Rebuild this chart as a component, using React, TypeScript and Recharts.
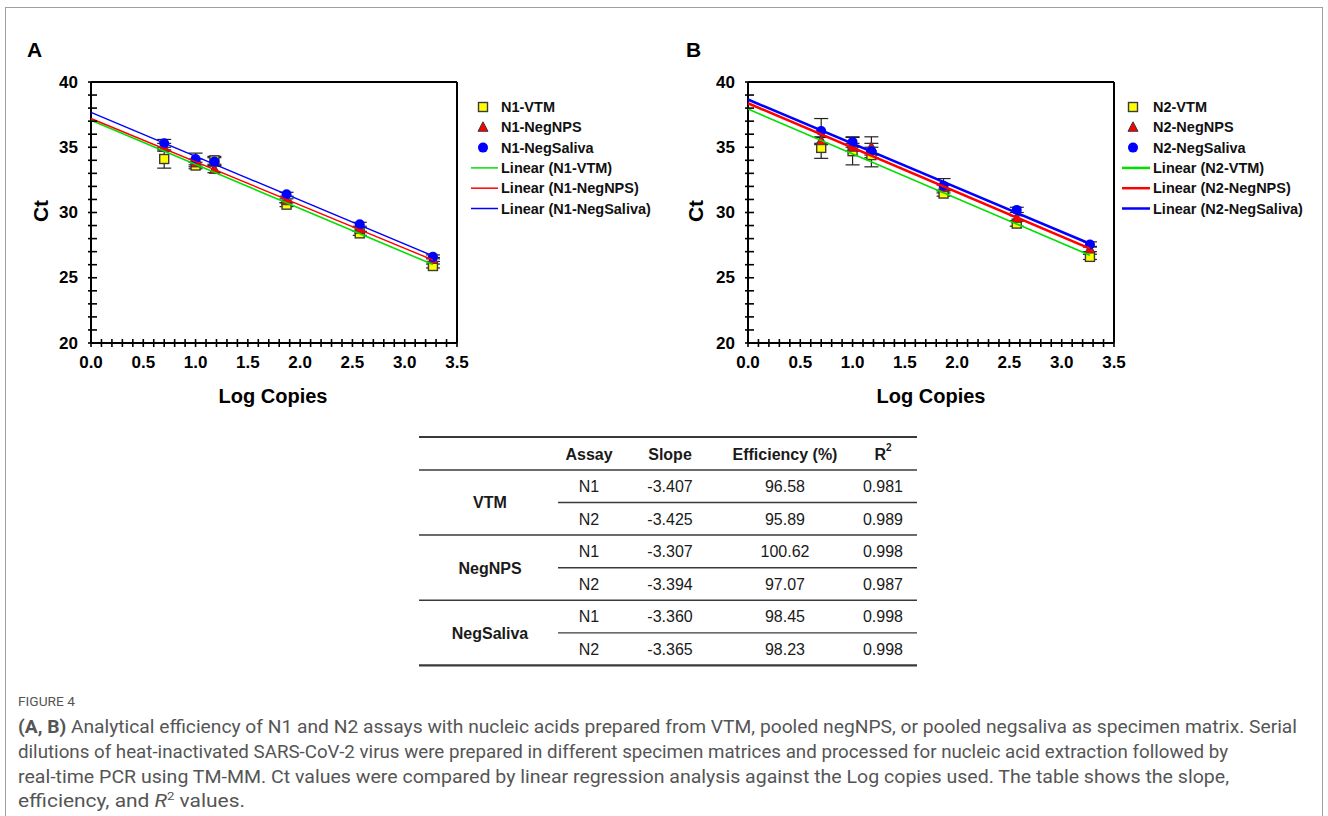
import { ScatterChart, Scatter, XAxis, YAxis, ErrorBar, ReferenceLine } from "recharts"

const logCopies = [0.7, 1.0, 1.18, 1.87, 2.57, 3.27]

// panel A: N1 assay
const n1Vtm = [34.1, 33.6, 34.0, 30.6, 28.4, 25.9]
const n1VtmErr = [0.7, 0.25, 0.3, 0.15, 0.15, 0.15]
const n1NegNps = [35.0, 33.8, 33.3, 30.9, 28.7, 26.4]
const n1NegNpsErr = [0.3, 0.3, 0.25, 0.15, 0.15, 0.15]
const n1NegSaliva = [35.3, 34.1, 33.9, 31.4, 29.1, 26.6]
const n1NegSalivaErr = [0.3, 0.45, 0.3, 0.15, 0.15, 0.15]

// panel B: N2 assay
const n2Vtm = [34.95, 34.7, 34.4, 31.45, 29.15, 26.6]
const n2VtmErr = [0.8, 1.05, 0.9, 0.2, 0.2, 0.2]
const n2NegNps = [35.5, 35.0, 35.0, 31.9, 29.55, 27.2]
const n2NegNpsErr = [0.3, 0.3, 0.8, 0.2, 0.2, 0.2]
const n2NegSaliva = [36.25, 35.4, 34.7, 32.05, 30.2, 27.55]
const n2NegSalivaErr = [0.95, 0.4, 0.3, 0.55, 0.2, 0.2]

const xTicks = Array.from({ length: 36 }, (_, i) => i / 10)
const yTicks = Array.from({ length: 21 }, (_, i) => 20 + i)

// table
const matrices = ["VTM", "NegNPS", "NegSaliva"]
const assays = ["N1", "N2", "N1", "N2", "N1", "N2"]
const slopes = ["-3.407", "-3.425", "-3.307", "-3.394", "-3.360", "-3.365"]
const efficiencies = ["96.58", "95.89", "100.62", "97.07", "98.45", "98.23"]
const rSquared = ["0.981", "0.989", "0.998", "0.987", "0.998", "0.998"]

const captionLines = [
  "Analytical efficiency of N1 and N2 assays with nucleic acids prepared from VTM, pooled negNPS, or pooled negsaliva as specimen matrix. Serial",
  "dilutions of heat-inactivated SARS-CoV-2 virus were prepared in different specimen matrices and processed for nucleic acid extraction followed by",
  "real-time PCR using TM-MM. Ct values were compared by linear regression analysis against the Log copies used. The table shows the slope,",
]

const FONT = "'Liberation Sans', Arial, sans-serif"
const CAPTION_FONT = "Roboto, 'Open Sans', sans-serif"

const toPoints = (ys: number[], errs: number[]) => logCopies.map((x, i) => ({ x, y: ys[i], err: errs[i] }))

// least squares trendline, from 0 to the last point
function fitLine(pts: { x: number; y: number }[]) {
  const n = pts.length
  const mx = pts.reduce((s, p) => s + p.x, 0) / n
  const my = pts.reduce((s, p) => s + p.y, 0) / n
  let sxy = 0
  let sxx = 0
  pts.forEach((p) => {
    sxy += (p.x - mx) * (p.y - my)
    sxx += (p.x - mx) * (p.x - mx)
  })
  const slope = sxy / sxx
  const icpt = my - slope * mx
  const xEnd = Math.max(...pts.map((p) => p.x))
  return [
    { x: 0, y: icpt },
    { x: xEnd, y: icpt + slope * xEnd },
  ]
}

type Kind = "square" | "triangle" | "circle"

function Marker({ kind, cx, cy }: { kind: Kind; cx: number; cy: number }) {
  if (kind === "square")
    return <rect x={cx - 4.5} y={cy - 4.5} width={9} height={9} fill="#ffff00" stroke="#3a3a3a" strokeWidth={1.4} />
  if (kind === "triangle")
    return (
      <polygon
        points={`${cx},${cy - 5.5} ${cx + 5},${cy + 4} ${cx - 5},${cy + 4}`}
        fill="#ff0000"
        stroke="#3a3a3a"
        strokeWidth={1}
      />
    )
  return <circle cx={cx} cy={cy} r={5} fill="#0000ff" />
}

const XTick = (props: any) => {
  const { x, y, payload } = props
  const v = payload.value
  const major = Math.round(v * 10) % 5 === 0
  return (
    <g>
      <line x1={x} x2={x} y1={y - 4} y2={y + 4} stroke="#000" strokeWidth={1.6} />
      {major && (
        <text x={x} y={y + 19} textAnchor="middle" dominantBaseline="central" fontFamily={FONT} fontWeight="bold" fontSize={17} fill="#000">
          {v.toFixed(1)}
        </text>
      )}
    </g>
  )
}

const YTick = (props: any) => {
  const { x, y, payload } = props
  const v = payload.value
  const major = v % 5 === 0
  return (
    <g>
      <line x1={x - 3} x2={x + 6} y1={y} y2={y} stroke="#000" strokeWidth={1.6} />
      {major && (
        <text x={x - 13} y={y} textAnchor="end" dominantBaseline="central" fontFamily={FONT} fontWeight="bold" fontSize={17} fill="#000">
          {v}
        </text>
      )}
    </g>
  )
}

type Series = { name: string; kind: Kind; color: string; ys: number[]; errs: number[] }

function Panel({ series, left, width, marginLeft, marginRight, lineWidths }: { series: Series[]; left: number; width: number; marginLeft: number; marginRight: number; lineWidths: number[] }) {
  return (
    <div style={{ position: "absolute", left, top: 0 }}>
      <ScatterChart width={width} height={420} margin={{ top: 82, right: marginRight, bottom: 47, left: marginLeft }}>
        <XAxis
          dataKey="x"
          type="number"
          domain={[0, 3.5]}
          ticks={xTicks}
          interval={0}
          height={30}
          tickLine={false}
          tickSize={0}
          tickMargin={0}
          axisLine={{ stroke: "#000", strokeWidth: 2 }}
          tick={(p: any) => <XTick {...p} />}
        />
        <YAxis
          dataKey="y"
          type="number"
          domain={[20, 40]}
          ticks={yTicks}
          interval={0}
          width={40}
          tickLine={false}
          tickSize={0}
          tickMargin={0}
          axisLine={{ stroke: "#000", strokeWidth: 2 }}
          tick={(p: any) => <YTick {...p} />}
        />
        <ReferenceLine y={40} stroke="#000" strokeWidth={2} />
        <ReferenceLine x={3.5} stroke="#000" strokeWidth={2} />
        {series.map((s) => (
          <Scatter
            key={s.name}
            name={s.name}
            data={toPoints(s.ys, s.errs)}
            isAnimationActive={false}
            shape={(p: any) => <Marker kind={s.kind} cx={p.cx} cy={p.cy} />}
          >
            <ErrorBar dataKey="err" direction="y" width={7} stroke="#222" strokeWidth={1.2} />
          </Scatter>
        ))}
        {series.map((s, i) => (
          <Scatter
            key={`fit-${s.name}`}
            name={`Linear (${s.name})`}
            data={fitLine(toPoints(s.ys, s.errs))}
            isAnimationActive={false}
            line={{ stroke: s.color, strokeWidth: lineWidths[i] }}
            shape={() => <g />}
          />
        ))}
      </ScatterChart>
    </div>
  )
}

function LegendBox({ series, left, textX, lineX1, lineX2, markerX, lineWidth }: { series: Series[]; left: number; textX: number; lineX1: number; lineX2: number; markerX: number; lineWidth: number }) {
  const rowY = (i: number) => 12 + i * 20.3
  return (
    <svg style={{ position: "absolute", left, top: 95 }} width={215} height={125}>
      {series.map((s, i) => (
        <g key={s.name}>
          <Marker kind={s.kind} cx={markerX} cy={rowY(i)} />
          <text x={textX} y={rowY(i)} dominantBaseline="central" fontFamily={FONT} fontWeight="bold" fontSize={14.5} fill="#111">
            {s.name}
          </text>
        </g>
      ))}
      {series.map((s, i) => (
        <g key={`l-${s.name}`}>
          <line x1={lineX1} x2={lineX2} y1={rowY(i + 3)} y2={rowY(i + 3)} stroke={s.color} strokeWidth={lineWidth} />
          <text x={textX} y={rowY(i + 3)} dominantBaseline="central" fontFamily={FONT} fontWeight="bold" fontSize={14.5} fill="#111">
            {`Linear (${s.name})`}
          </text>
        </g>
      ))}
    </svg>
  )
}

function Overlay() {
  const colX = [490, 589, 670, 785, 883]
  const rowY = (i: number) => 486.5 + i * 32.6
  const lineC = "#3a3a3a"
  return (
    <svg style={{ position: "absolute", left: 0, top: 0 }} width={1328} height={816}>
      <rect x={5.5} y={7.5} width={1317} height={900} fill="none" stroke="#a0a0a0" strokeWidth={1} />
      <g fontFamily={FONT} fontWeight="bold" fill="#000">
        <text x={27} y={57} fontSize={21}>A</text>
        <text x={686} y={57} fontSize={21}>B</text>
        <text transform="translate(40.5,211) rotate(-90)" textAnchor="middle" dominantBaseline="central" fontSize={21}>Ct</text>
        <text transform="translate(695.5,211) rotate(-90)" textAnchor="middle" dominantBaseline="central" fontSize={21}>Ct</text>
        <text x={273} y={396} textAnchor="middle" dominantBaseline="central" fontSize={20}>Log Copies</text>
        <text x={931} y={396} textAnchor="middle" dominantBaseline="central" fontSize={20}>Log Copies</text>
      </g>

      {/* table */}
      <g fontFamily={FONT} fontSize={16} fill="#1a1a1a">
        <line x1={419} x2={917} y1={437} y2={437} stroke={lineC} strokeWidth={2.2} />
        <line x1={419} x2={917} y1={470} y2={470} stroke={lineC} strokeWidth={1.4} />
        <text x={colX[1]} y={454} textAnchor="middle" dominantBaseline="central" fontWeight="bold">Assay</text>
        <text x={colX[2]} y={454} textAnchor="middle" dominantBaseline="central" fontWeight="bold">Slope</text>
        <text x={colX[3]} y={454} textAnchor="middle" dominantBaseline="central" fontWeight="bold">Efficiency (%)</text>
        <text x={colX[4]} y={454} textAnchor="middle" dominantBaseline="central" fontWeight="bold">
          R<tspan fontSize={10} dy={-7}>2</tspan>
        </text>
        {matrices.map((m, g) => (
          <g key={m}>
            <text x={colX[0]} y={rowY(g * 2) + 16.3} textAnchor="middle" dominantBaseline="central" fontWeight="bold">{m}</text>
            <line x1={558} x2={917} y1={rowY(g * 2) + 16} y2={rowY(g * 2) + 16} stroke={lineC} strokeWidth={1.4} />
            <line x1={419} x2={917} y1={rowY(g * 2) + 48.5} y2={rowY(g * 2) + 48.5} stroke={lineC} strokeWidth={g === 2 ? 2.2 : 1.4} />
          </g>
        ))}
        {assays.map((a, i) => (
          <g key={i}>
            <text x={colX[1]} y={rowY(i)} textAnchor="middle" dominantBaseline="central">{a}</text>
            <text x={colX[2]} y={rowY(i)} textAnchor="middle" dominantBaseline="central">{slopes[i]}</text>
            <text x={colX[3]} y={rowY(i)} textAnchor="middle" dominantBaseline="central">{efficiencies[i]}</text>
            <text x={colX[4]} y={rowY(i)} textAnchor="middle" dominantBaseline="central">{rSquared[i]}</text>
          </g>
        ))}
      </g>

      {/* caption */}
      <g fontFamily={CAPTION_FONT} fill="#555">
        <text x={18} y={706} fontSize={12.5} textLength={57} lengthAdjust="spacingAndGlyphs">FIGURE 4</text>
        <text x={18} y={733} fontSize={17.5} textLength={1279} lengthAdjust="spacingAndGlyphs">
          <tspan fontWeight="bold">(A, B)</tspan> {captionLines[0]}
        </text>
        <text x={18} y={758} fontSize={17.5} textLength={1210} lengthAdjust="spacingAndGlyphs">{captionLines[1]}</text>
        <text x={18} y={783} fontSize={17.5} textLength={1211} lengthAdjust="spacingAndGlyphs">{captionLines[2]}</text>
        <text x={18} y={807} fontSize={17.5} textLength={227} lengthAdjust="spacingAndGlyphs">
          efficiency, and <tspan fontStyle="italic">R</tspan>
          <tspan fontSize={11} dy={-7}>2</tspan>
          <tspan dy={7}> values.</tspan>
        </text>
      </g>
    </svg>
  )
}

const seriesA: Series[] = [
  { name: "N1-VTM", kind: "square", color: "#00e000", ys: n1Vtm, errs: n1VtmErr },
  { name: "N1-NegNPS", kind: "triangle", color: "#ff0000", ys: n1NegNps, errs: n1NegNpsErr },
  { name: "N1-NegSaliva", kind: "circle", color: "#0000ff", ys: n1NegSaliva, errs: n1NegSalivaErr },
]

const seriesB: Series[] = [
  { name: "N2-VTM", kind: "square", color: "#00e000", ys: n2Vtm, errs: n2VtmErr },
  { name: "N2-NegNPS", kind: "triangle", color: "#ff0000", ys: n2NegNps, errs: n2NegNpsErr },
  { name: "N2-NegSaliva", kind: "circle", color: "#0000ff", ys: n2NegSaliva, errs: n2NegSalivaErr },
]

export default function App() {
  return (
    <div style={{ position: "absolute", left: 0, top: 0, width: 1328, height: 816, background: "#fff", overflow: "hidden" }}>
      <Overlay />
      <Panel series={seriesA} left={0} width={680} marginLeft={51} marginRight={223} lineWidths={[1.6, 1.4, 1.4]} />
      <Panel series={seriesB} left={660} width={660} marginLeft={48} marginRight={206} lineWidths={[1.6, 2.6, 2.6]} />
      <LegendBox series={seriesA} left={460} markerX={23} lineX1={11} lineX2={38} textX={41} lineWidth={1.5} />
      <LegendBox series={seriesB} left={1110} markerX={23} lineX1={12} lineX2={40} textX={43} lineWidth={2.5} />
    </div>
  )
}
